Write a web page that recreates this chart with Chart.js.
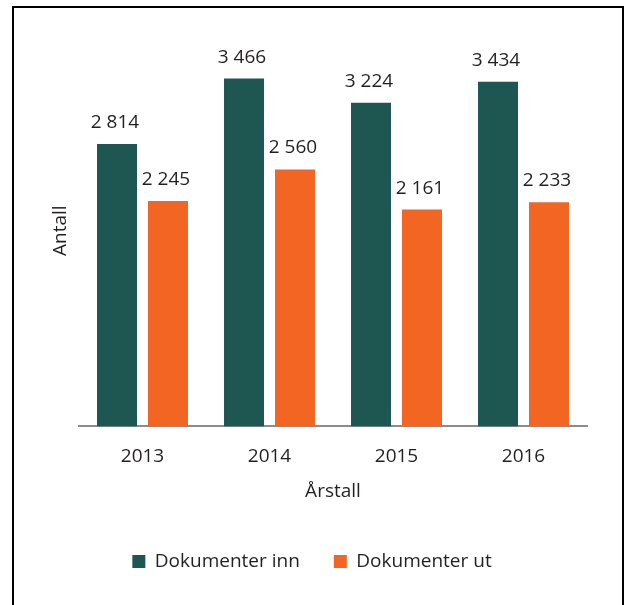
<!DOCTYPE html>
<html>
<head>
<meta charset="utf-8">
<script src="https://cdn.jsdelivr.net/npm/chart.js@4/dist/chart.umd.min.js"></script>
<style>
  html, body { margin: 0; padding: 0; background: #fff; }
  #wrap { position: relative; width: 624px; height: 605px; overflow: hidden; }
  #frame { position: absolute; left: 12px; top: 6px; width: 612px; height: 640px; box-sizing: border-box; border: 2px solid #000; }
  canvas { position: absolute; left: 0; top: 0; }
</style>
</head>
<body>
<div id="wrap">
  <div id="frame"></div>
  <canvas id="c" width="624" height="605"></canvas>
</div>
<script>
const categories = ['2013', '2014', '2015', '2016'];
const seriesNames = ['Dokumenter inn', 'Dokumenter ut'];
const inn = [2814, 3466, 3224, 3434];
const ut = [2245, 2560, 2161, 2233];
const xTitle = 'Årstall';
const yTitle = 'Antall';

const FONT = '"Open Sans", "Noto Sans", sans-serif';
const TEXT = '#231f20';

function fmt(v) {
  return String(v).replace(/\B(?=(\d{3})+(?!\d))/g, ' ');
}

const valueLabels = {
  id: 'valueLabels',
  afterDatasetsDraw(chart) {
    const ctx = chart.ctx;
    ctx.save();
    ctx.font = '19px ' + FONT;
    ctx.fillStyle = TEXT;
    ctx.textAlign = 'center';
    ctx.textBaseline = 'alphabetic';
    chart.data.datasets.forEach((ds, i) => {
      const meta = chart.getDatasetMeta(i);
      meta.data.forEach((bar, j) => {
        ctx.fillText(fmt(ds.data[j]), bar.x - 2, bar.y - 16);
      });
    });
    ctx.restore();
  }
};

const yTitlePlugin = {
  id: 'yTitlePlugin',
  afterDraw(chart) {
    const ctx = chart.ctx;
    const a = chart.chartArea;
    ctx.save();
    ctx.font = '19px ' + FONT;
    ctx.fillStyle = TEXT;
    ctx.textAlign = 'center';
    ctx.textBaseline = 'middle';
    ctx.translate(61, (a.top + a.bottom) / 2);
    ctx.rotate(-Math.PI / 2);
    ctx.fillText(yTitle, 0, 0);
    ctx.restore();
  }
};

const hiddenAxis = {
  grid: { display: false, drawTicks: false },
  border: { display: false },
  ticks: { display: false }
};

new Chart(document.getElementById('c'), {
  type: 'bar',
  data: {
    labels: categories,
    datasets: [
      { label: seriesNames[0], data: inn, backgroundColor: '#1e5752', borderWidth: 0 },
      { label: seriesNames[1], data: ut, backgroundColor: '#f26522', borderWidth: 0 }
    ]
  },
  options: {
    responsive: false,
    animation: false,
    devicePixelRatio: 1,
    categoryPercentage: 0.803,
    barPercentage: 0.784,
    layout: { padding: { left: 0, right: 0, top: 35, bottom: 24 } },
    plugins: {
      tooltip: { enabled: false },
      legend: {
        position: 'bottom',
        labels: {
          boxWidth: 13,
          boxHeight: 13,
          padding: 34,
          color: TEXT,
          font: { family: FONT, size: 19 }
        }
      }
    },
    scales: {
      x: {
        grid: { display: false, drawTicks: false },
        border: { display: true, color: '#8c8c8c', width: 2 },
        ticks: { color: TEXT, padding: 19, font: { family: FONT, size: 19 } },
        title: { display: true, text: xTitle, color: TEXT, font: { family: FONT, size: 19 }, padding: { top: -7, bottom: 15 } }
      },
      y: Object.assign({}, hiddenAxis, {
        display: true,
        position: 'left',
        min: 0,
        max: 3900,
        afterFit(s) { s.width = 79; }
      }),
      y2: Object.assign({}, hiddenAxis, {
        display: true,
        position: 'right',
        min: 0,
        max: 1,
        afterFit(s) { s.width = 37; }
      })
    }
  },
  plugins: [valueLabels, yTitlePlugin]
});
</script>
</body>
</html>
